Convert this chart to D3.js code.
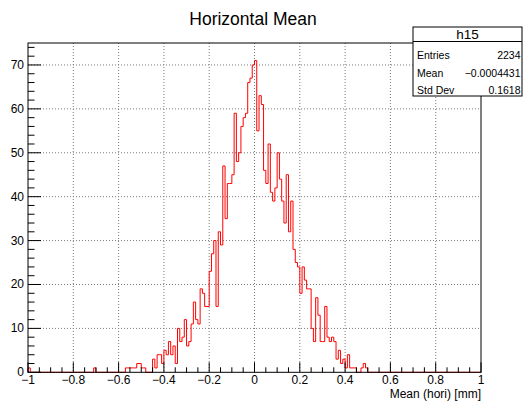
<!DOCTYPE html>
<html>
<head>
<meta charset="utf-8">
<script src="https://cdn.jsdelivr.net/npm/d3@7"></script>
<style>
  html, body { margin: 0; padding: 0; background: #fff; }
  svg { display: block; font-family: "Liberation Sans", Arial, Helvetica, sans-serif; }
</style>
</head>
<body>
<svg id="chart" width="524" height="402"></svg>
<script>
// ---- data ----
const title = "Horizontal Mean";
const xAxisTitle = "Mean (hori) [mm]";
const histName = "h15";
const xRange = [-1, 1];
const binWidth = 0.01;
// 200 bins, each 0.01 wide, starting at -1
const counts = [
  1,0,0,0,0,0,0,0,0,0,
  0,0,0,0,0,0,0,0,0,0,
  0,0,0,0,0,0,0,0,0,1,
  0,0,0,0,0,0,0,0,0,0,
  0,0,0,1,1,1,1,1,2,2,
  1,1,0,0,0,3,1,4,4,2,
  5,4,7,4,6,2,10,7,8,12,
  6,7,11,16,12,11,19,18,15,15,
  23,27,30,15,32,29,47,35,43,43,
  45,59,48,50,56,58,59,66,67,70,
  71,55,63,61,46,43,52,41,39,42,
  50,44,39,34,45,32,39,28,25,24,
  18,24,21,19,19,10,7,17,13,7,
  7,15,8,7,8,7,3,5,2,3,
  1,4,1,1,1,0,0,1,2,1,
  0,0,0,0,0,0,0,0,0,0,
  0,0,0,0,0,0,0,0,0,0,
  0,0,0,0,0,0,0,0,0,0,
  0,0,0,0,0,0,0,0,0,0,
  0,0,0,0,0,0,0,0,0,0
];
const yMax = 75;
const xMajorTicks = [-1, -0.8, -0.6, -0.4, -0.2, 0, 0.2, 0.4, 0.6, 0.8, 1];
const xTickLabels = ["\u22121", "\u22120.8", "\u22120.6", "\u22120.4", "\u22120.2", "0", "0.2", "0.4", "0.6", "0.8", "1"];
const yMajorTicks = [0, 10, 20, 30, 40, 50, 60, 70];
const statLabels = ["Entries", "Mean", "Std Dev"];
const statValues = ["2234", "\u22120.0004431", "0.1618"];

// ---- layout ----
const svg = d3.select("#chart");
const frame = { left: 28, right: 481, top: 43, bottom: 372.3 };
const x = d3.scaleLinear().domain(xRange).range([frame.left, frame.right]);
const y = d3.scaleLinear().domain([0, yMax]).range([frame.bottom, frame.top]);

// grid (dotted)
const grid = svg.append("g").attr("stroke", "#7a7a7a").attr("stroke-width", 1).attr("stroke-dasharray", "1,2");
xMajorTicks.filter(v => v > xRange[0] && v < xRange[1]).forEach(v => {
  grid.append("line").attr("x1", x(v)).attr("x2", x(v)).attr("y1", frame.top).attr("y2", frame.bottom);
});
yMajorTicks.filter(v => v > 0).forEach(v => {
  grid.append("line").attr("x1", frame.left).attr("x2", frame.right).attr("y1", y(v)).attr("y2", y(v));
});

// histogram step outline
const pts = [[x(xRange[0]), y(0)]];
counts.forEach((c, i) => {
  const x0 = xRange[0] + i * binWidth, x1 = x0 + binWidth;
  pts.push([x(x0), y(c)], [x(x1), y(c)]);
});
pts.push([x(xRange[1]), y(0)]);
svg.append("path")
  .attr("d", d3.line()(pts))
  .attr("fill", "none")
  .attr("stroke", "#ff0000")
  .attr("stroke-width", 1);

// frame
svg.append("rect")
  .attr("x", frame.left).attr("y", frame.top)
  .attr("width", frame.right - frame.left).attr("height", frame.bottom - frame.top)
  .attr("fill", "none").attr("stroke", "#000").attr("stroke-width", 1);

// x axis ticks
const xMinor = d3.range(0, 41).map(i => +(xRange[0] + i * 0.05).toFixed(2));
const xg = svg.append("g");
xMinor.forEach(v => {
  const major = xMajorTicks.some(t => Math.abs(t - v) < 1e-6);
  xg.append("line").attr("x1", x(v)).attr("x2", x(v))
    .attr("y1", frame.bottom).attr("y2", frame.bottom - (major ? 10 : 5))
    .attr("stroke", "#000").attr("stroke-width", 1);
});
xMajorTicks.forEach((v, i) => {
  xg.append("text").attr("x", x(v)).attr("y", 384)
    .attr("text-anchor", "middle").attr("font-size", 12).attr("fill", "#000")
    .text(xTickLabels[i]);
});
svg.append("text").attr("x", frame.right).attr("y", 398)
  .attr("text-anchor", "end").attr("font-size", 12).attr("fill", "#000")
  .text(xAxisTitle);

// y axis ticks
const yg = svg.append("g");
d3.range(0, yMax + 0.001, 2).forEach(v => {
  const major = v % 10 === 0;
  yg.append("line").attr("x1", frame.left).attr("x2", frame.left + (major ? 13 : 6.5))
    .attr("y1", y(v)).attr("y2", y(v)).attr("stroke", "#000").attr("stroke-width", 1);
});
yMajorTicks.forEach(v => {
  yg.append("text").attr("x", 24).attr("y", y(v) + 4)
    .attr("text-anchor", "end").attr("font-size", 12).attr("fill", "#000")
    .text(String(v));
});

// title
svg.append("text").attr("x", 253).attr("y", 25)
  .attr("text-anchor", "middle").attr("font-size", 17.5).attr("fill", "#000")
  .text(title);

// stats box
const box = { x: 413, y: 27, w: 109, h: 69 };
svg.append("rect").attr("x", box.x).attr("y", box.y).attr("width", box.w).attr("height", box.h)
  .attr("fill", "#fff").attr("stroke", "#000").attr("stroke-width", 1);
svg.append("line").attr("x1", box.x).attr("x2", box.x + box.w).attr("y1", 41.5).attr("y2", 41.5)
  .attr("stroke", "#000").attr("stroke-width", 1);
svg.append("text").attr("x", box.x + box.w / 2).attr("y", 39)
  .attr("text-anchor", "middle").attr("font-size", 13.5).attr("fill", "#000").text(histName);
statLabels.forEach((lab, i) => {
  const yy = 59 + i * 17.6;
  svg.append("text").attr("x", box.x + 4).attr("y", yy)
    .attr("font-size", 10.5).attr("fill", "#000").text(lab);
  svg.append("text").attr("x", box.x + box.w - 1.5).attr("y", yy)
    .attr("text-anchor", "end").attr("font-size", 10.5).attr("fill", "#000").text(statValues[i]);
});
</script>
</body>
</html>
